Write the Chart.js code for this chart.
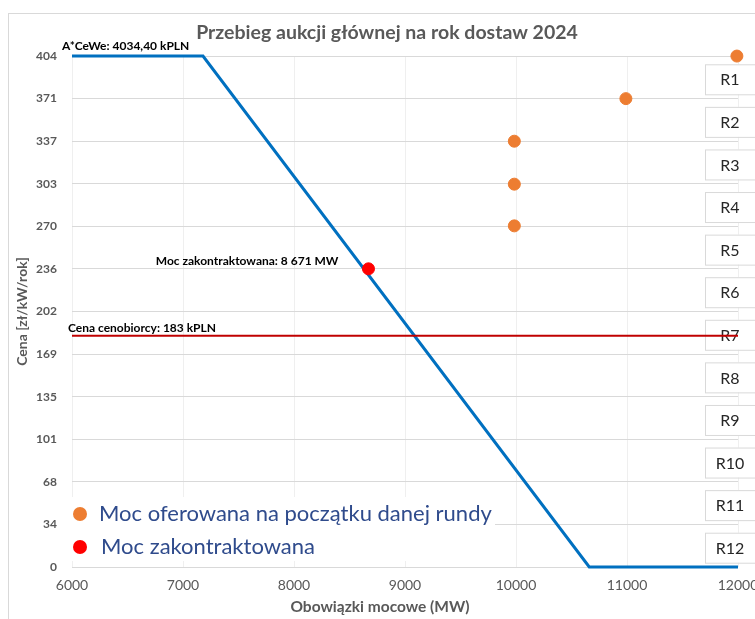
<!DOCTYPE html>
<html>
<head>
<meta charset="utf-8">
<script src="https://cdn.jsdelivr.net/npm/chart.js@4.4.1/dist/chart.umd.min.js"></script>
<style>
  html, body { margin: 0; padding: 0; background: #fff; }
  #wrap { width: 755px; height: 619px; }
</style>
</head>
<body>
<div id="wrap"><canvas id="myChart"></canvas></div>
<script>
const yMax = 404.44;
const yTickLabels = ['0', '34', '68', '101', '135', '169', '202', '236', '270', '303', '337', '371', '404'];
const rounds = ['R1', 'R2', 'R3', 'R4', 'R5', 'R6', 'R7', 'R8', 'R9', 'R10', 'R11', 'R12'];

const curveX = [6000, 7180, 10660, 12000];
const curveY = [404.44, 404.44, 0, 0];
const takerX = [6000, 12000];
const takerY = [183, 183];
const offeredX = [11990, 10990, 9985, 9985, 9985];
const offeredY = [404.4, 370.7, 337, 303, 270];
const contractedX = [8671];
const contractedY = [236];

const legendItems = ['Moc oferowana na początku danej rundy', 'Moc zakontraktowana'];
const legendColors = ['#ED7D31', '#FF0000'];

const toPoints = (xs, ys) => xs.map((x, i) => ({ x: x, y: ys[i] }));

Chart.defaults.font.family = 'Lato';

const extras = {
  id: 'extras',
  beforeDraw(chart) {
    const c = chart.ctx;
    c.save();
    c.fillStyle = '#fff';
    c.fillRect(0, 0, chart.width, chart.height);
    c.strokeStyle = '#d9d9d9';
    c.lineWidth = 1;
    c.strokeRect(8.5, 13.5, chart.width + 20, chart.height + 20);
    // title + x axis title
    c.fillStyle = '#595959';
    c.textAlign = 'center';
    c.textBaseline = 'middle';
    c.font = 'bold 19.5px Lato';
    c.fillText('Przebieg aukcji głównej na rok dostaw 2024', 387, 33);
    c.font = 'bold 15.5px Lato';
    c.fillText('Obowiązki mocowe (MW)', 380, 607);
    c.restore();
  },
  beforeDatasetsDraw(chart) {
    const c = chart.ctx;
    const y = chart.scales.y;
    const a = chart.chartArea;
    c.save();
    // round boxes
    c.font = '16px Lato';
    c.textAlign = 'center';
    c.textBaseline = 'middle';
    rounds.forEach((r, i) => {
      const cy = y.getPixelForValue(yMax * (12 - i - 0.5) / 12) + 2;
      c.fillStyle = '#fff';
      c.fillRect(705, cy - 15, 60, 30);
      c.strokeStyle = '#d9d9d9';
      c.lineWidth = 1;
      c.strokeRect(705.5, cy - 14.5, 60, 30);
      c.fillStyle = '#262626';
      c.fillText(r, 730, cy + 1);
    });
    // legend background
    c.fillStyle = '#fff';
    c.fillRect(a.left, 497, 423, 64);
    c.restore();
  },
  afterDatasetsDraw(chart) {
    const c = chart.ctx;
    const x = chart.scales.x;
    const y = chart.scales.y;
    c.save();
    c.fillStyle = '#000';
    c.font = 'bold 12px Lato';
    c.textBaseline = 'middle';
    c.textAlign = 'left';
    c.fillText('A*CeWe: 4034,40 kPLN', x.getPixelForValue(curveX[0]) - 10, y.getPixelForValue(curveY[0]) - 10);
    c.fillText('Cena cenobiorcy: 183 kPLN', x.getPixelForValue(takerX[0]) - 4, y.getPixelForValue(takerY[0]) - 8);
    c.textAlign = 'right';
    c.fillText('Moc zakontraktowana: 8 671 MW', x.getPixelForValue(contractedX[0]) - 30, y.getPixelForValue(contractedY[0]) - 8);
    // legend
    c.font = '22px Lato';
    c.textAlign = 'left';
    legendItems.forEach((t, i) => {
      const ly = 514 + i * 33;
      c.fillStyle = legendColors[i];
      c.beginPath();
      c.arc(80, ly, 7, 0, Math.PI * 2);
      c.fill();
      c.fillStyle = '#2F4B8C';
      c.fillText(t, 99 + i * 2, ly);
    });
    c.restore();
  }
};

const ctx = document.getElementById('myChart').getContext('2d');

new Chart(ctx, {
  type: 'scatter',
  data: {
    datasets: [
      {
        data: toPoints(contractedX, contractedY),
        backgroundColor: '#FF0000',
        borderColor: '#FF0000',
        pointRadius: 6,
        order: 1,
        clip: false,
      },
      {
        data: toPoints(offeredX, offeredY),
        backgroundColor: '#ED7D31',
        borderColor: '#ED7D31',
        pointRadius: 6,
        order: 2,
        clip: false,
      },
      {
        data: toPoints(takerX, takerY),
        showLine: true,
        borderColor: '#C00000',
        borderWidth: 2,
        pointRadius: 0,
        order: 3,
      },
      {
        data: toPoints(curveX, curveY),
        showLine: true,
        borderColor: '#0070C0',
        borderWidth: 3,
        pointRadius: 0,
        order: 4,
        clip: false,
      },
    ],
  },
  options: {
    responsive: true,
    maintainAspectRatio: false,
    animation: false,
    layout: { padding: { top: 56, right: 17, left: 0, bottom: 0 } },
    plugins: {
      legend: { display: false },
      tooltip: { enabled: false },
    },
    scales: {
      x: {
        type: 'linear',
        min: 6000,
        max: 12000,
        ticks: {
          stepSize: 1000,
          color: '#595959',
          font: { size: 14 },
          padding: 10,
          callback: (v) => String(v),
        },
        grid: { color: '#efefef', drawTicks: false },
        border: { display: false },
        afterFit: (s) => { s.height = 52; s.paddingLeft = 0; s.paddingRight = 0; },
      },
      y: {
        min: 0,
        max: yMax,
        afterBuildTicks: (s) => {
          s.ticks = yTickLabels.map((t, i) => ({ value: yMax * i / 12 }));
        },
        ticks: {
          color: '#595959',
          font: { size: 12, weight: 'bold' },
          padding: 15,
          callback: (v, i) => yTickLabels[i],
        },
        grid: { color: '#d9d9d9', drawTicks: false },
        border: { display: false },
        title: {
          display: true,
          text: 'Cena [zł/kW/rok]',
          color: '#595959',
          font: { size: 14, weight: 'bold' },
          padding: { top: 14 },
        },
        afterFit: (s) => { s.width = 72; s.paddingTop = 0; s.paddingBottom = 0; },
      },
    },
  },
  plugins: [extras],
});
</script>
</body>
</html>
